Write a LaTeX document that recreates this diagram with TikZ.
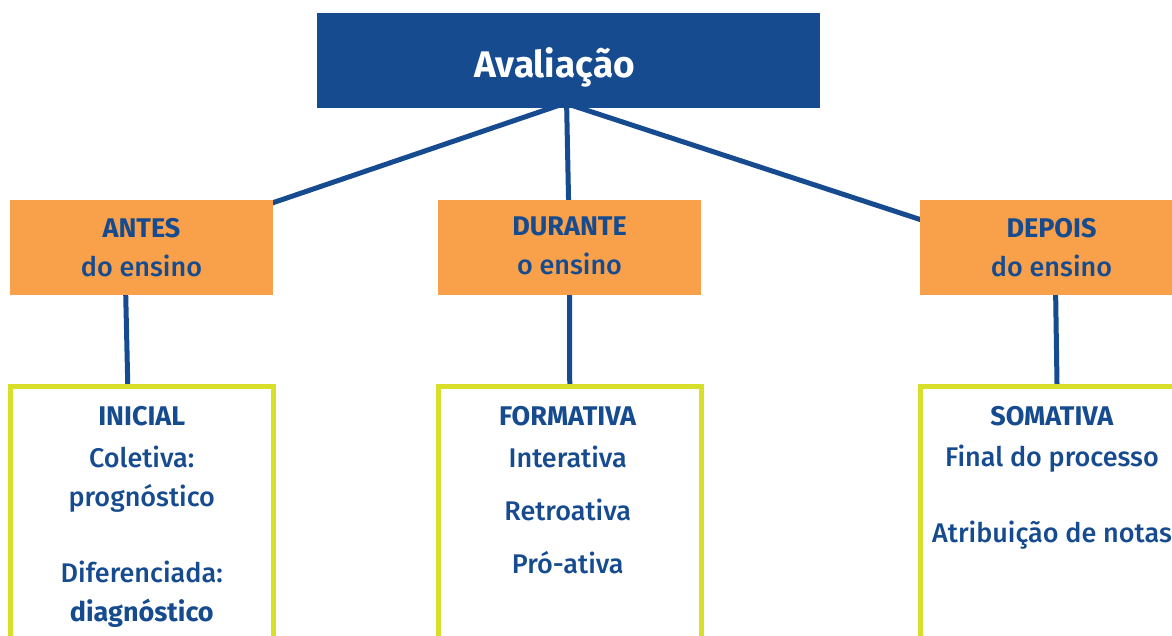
\documentclass[tikz,border=0pt]{standalone}
\usepackage{fontspec}
\setmainfont{Fira Sans}[UprightFont={* Medium},BoldFont={* Bold}]
\usetikzlibrary{positioning,calc,backgrounds}
\definecolor{avblue}{HTML}{164B90}
\definecolor{avorange}{HTML}{F8A04A}
\definecolor{avgreen}{HTML}{D7DF2A}
\tikzset{
  topbox/.style={fill=avblue,text=white,minimum width=503pt,minimum height=95pt,inner sep=0pt,font=\bfseries\fontsize{37}{37}\selectfont},
  phasebox/.style={fill=avorange,text=avblue,minimum width=263pt,minimum height=95pt,inner sep=0pt,align=center,font=\fontsize{27}{39}\selectfont},
  typebox/.style={draw=avgreen,line width=5pt,minimum width=263pt,minimum height=300pt,inner sep=0pt},
  typetext/.style={text=avblue,align=center,inner sep=0pt,font=\fontsize{27}{39}\selectfont},
  link/.style={draw=avblue,line width=5pt}
}

\begin{document}
\begin{tikzpicture}[x=1pt,y=-1pt]
  \useasboundingbox (0,0) rectangle (1172,635);
  \clip (0,0) rectangle (1172,635);
  % top level
  \node[topbox] (aval) at (568.5,60.5) {\hspace*{-28pt}\rule{0pt}{44pt}Avaliação};
  % phases
  \node[phasebox] (antes) at (141.5,247.5) {\textbf{ANTES}\\do ensino};
  \node[phasebox] (durante) at (569.5,247.5) {\textbf{DURANTE}\\o ensino\rule[-4pt]{0pt}{4pt}};
  \node[phasebox] (depois) at (1051.5,247.5) {\textbf{DEPOIS}\\do ensino};
  % types of evaluation
  \node[typebox] (inicial) at (141.75,536.5) {};
  \node[typebox] (formativa) at (569.75,536.5) {};
  \node[typebox] (somativa) at (1052,536.5) {};
  \node[typetext,below=22pt of inicial.north] (inicialtxt)
    {\textbf{INICIAL}\\[3pt]Coletiva:\\prognóstico\\[37pt]Diferenciada:\\\textbf{diagnóstico}};
  \node[typetext,below=22pt of formativa.north,xshift=-2pt] (formativatxt)
    {\textbf{FORMATIVA}\\[3pt]Interativa\\[14pt]Retroativa\\[14pt]Pró-ativa};
  \node[typetext,below=22pt of somativa.north] (somativatxt)
    {\textbf{SOMATIVA}\\[2pt]Final do processo\\[37pt]Atribuição de notas};
  % connectors
  \begin{scope}[on background layer]
    \draw[link,shorten <=-10pt] ($(aval.south)+(-18,0)$) -- (antes.center);
    \draw[link] ($(aval.south)+(-2,-10)$) -- (durante.center);
    \draw[link,shorten <=-10pt] ($(aval.south)+(12,0)$) -- ($(depois.west)+(40,-15)$);
    \draw[link] ($(antes.south)+(-16,-10)$) -- ($(inicial.north)+(-14,0)$);
    \draw[link] ($(durante.south)+(0,-10)$) -- ($(formativa.north)+(0,0)$);
    \draw[link] ($(depois.south)+(4,-10)$) -- ($(somativa.north)+(5,0)$);
  \end{scope}
\end{tikzpicture}
\end{document}
